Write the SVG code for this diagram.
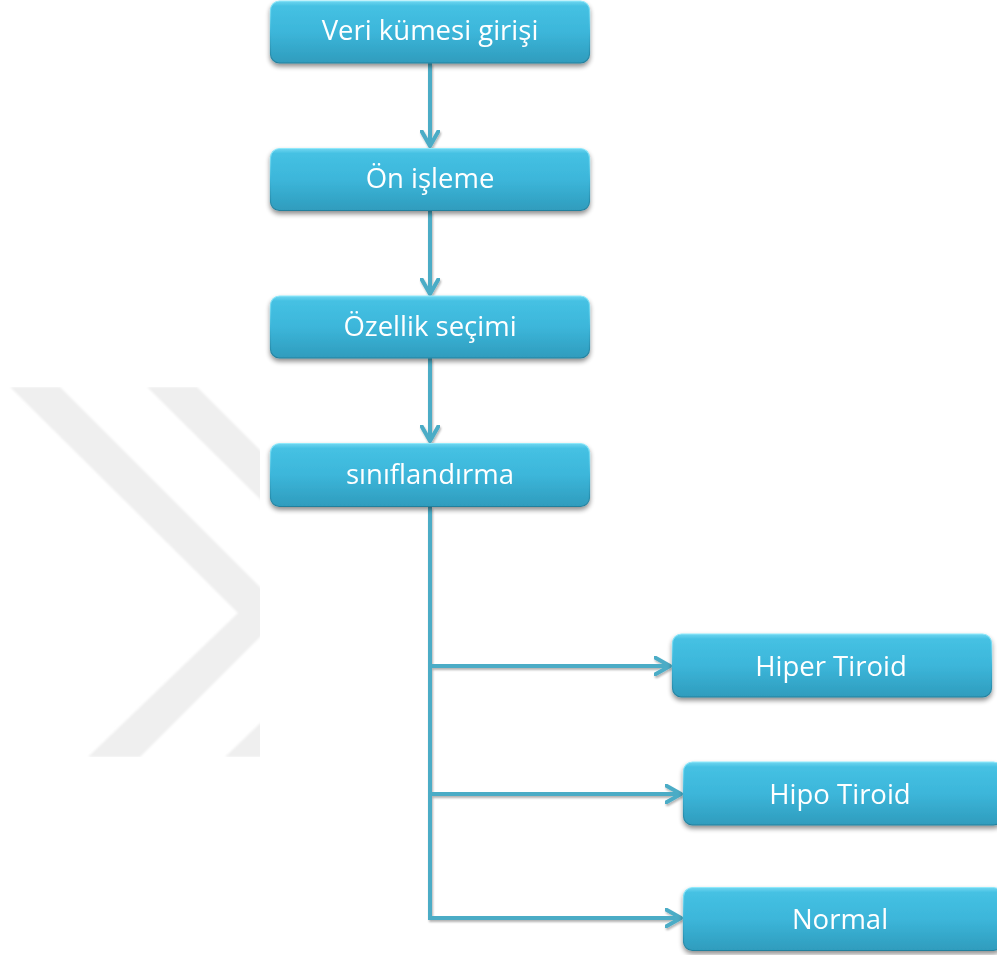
<svg xmlns="http://www.w3.org/2000/svg" width="997" height="955" viewBox="0 0 997 955">
  <defs>
    <linearGradient id="boxFill" x1="0" y1="0" x2="0" y2="1">
      <stop offset="0" stop-color="#6fd6f0"/>
      <stop offset="0.08" stop-color="#45c1e3"/>
      <stop offset="0.5" stop-color="#3cb6da"/>
      <stop offset="1" stop-color="#2f9cbd"/>
    </linearGradient>
    <linearGradient id="boxRim" x1="0" y1="0" x2="0" y2="1">
      <stop offset="0" stop-color="#8fe9fb"/>
      <stop offset="0.5" stop-color="#3db5d8"/>
      <stop offset="1" stop-color="#237f9c"/>
    </linearGradient>
    <filter id="boxShadow" x="-10%" y="-20%" width="120%" height="160%">
      <feGaussianBlur in="SourceAlpha" stdDeviation="2.5"/>
      <feOffset dx="0" dy="3" result="blur"/>
      <feComponentTransfer><feFuncA type="linear" slope="0.45"/></feComponentTransfer>
      <feMerge><feMergeNode/><feMergeNode in="SourceGraphic"/></feMerge>
    </filter>
    <filter id="lineShadow" x="-5%" y="-5%" width="110%" height="110%">
      <feGaussianBlur in="SourceAlpha" stdDeviation="1.2"/>
      <feOffset dx="1" dy="2"/>
      <feComponentTransfer><feFuncA type="linear" slope="0.3"/></feComponentTransfer>
      <feMerge><feMergeNode/><feMergeNode in="SourceGraphic"/></feMerge>
    </filter>
    <filter id="soft"><feGaussianBlur stdDeviation="0.8"/></filter>
    <clipPath id="markClip"><rect x="0" y="387" width="260" height="370"/></clipPath>
    <marker id="arrow" viewBox="0 0 20 20" refX="16" refY="10" markerWidth="20" markerHeight="20" markerUnits="userSpaceOnUse" orient="auto">
      <path d="M1,1.5 L16,10 L1,18.5" fill="none" stroke="#4bacc6" stroke-width="4" stroke-linecap="round" stroke-linejoin="round"/>
    </marker>
  </defs>
  <style>
    .box { fill: url(#boxFill); stroke: url(#boxRim); stroke-width: 1.2; }
    .label { font-family: "Open Sans", "Liberation Sans", sans-serif; font-size: 27.5px; fill: #ffffff; text-anchor: middle; }
    .conn { fill: none; stroke: #4bacc6; stroke-width: 4; stroke-linejoin: miter; }
    .mark { fill: #efefef; }
  </style>

  <rect width="997" height="955" fill="#ffffff"/>

  <!-- background chevron watermark -->
  <g id="watermark" clip-path="url(#markClip)" filter="url(#soft)">
    <polygon class="mark" points="10,387 60,387 285,612 140,757 88,757 238,613"/>
    <polygon class="mark" points="147,387 197,387 422,612 277,757 225,757 375,613"/>
  </g>

  <!-- connectors -->
  <g id="connectors" filter="url(#lineShadow)">
    <line class="conn" x1="430" y1="63" x2="430" y2="146" marker-end="url(#arrow)"/>
    <line class="conn" x1="430" y1="211" x2="430" y2="294" marker-end="url(#arrow)"/>
    <line class="conn" x1="430" y1="358" x2="430" y2="441" marker-end="url(#arrow)"/>
    <path class="conn" d="M430,507 V918 H681" marker-end="url(#arrow)"/>
    <line class="conn" x1="430" y1="666" x2="670" y2="666" marker-end="url(#arrow)"/>
    <line class="conn" x1="430" y1="794" x2="681" y2="794" marker-end="url(#arrow)"/>
  </g>

  <!-- process nodes -->
  <g id="node-veri" filter="url(#boxShadow)">
    <rect class="box" x="270.5" y="1" width="319" height="62" rx="9"/>
    <text class="label" x="430" y="40">Veri kümesi girişi</text>
  </g>
  <g id="node-on-isleme" filter="url(#boxShadow)">
    <rect class="box" x="270.5" y="148.5" width="319" height="62" rx="9"/>
    <text class="label" x="430" y="188">Ön işleme</text>
  </g>
  <g id="node-ozellik" filter="url(#boxShadow)">
    <rect class="box" x="270.5" y="296" width="319" height="62" rx="9"/>
    <text class="label" x="430" y="336">Özellik seçimi</text>
  </g>
  <g id="node-siniflandirma" filter="url(#boxShadow)">
    <rect class="box" x="270.5" y="443.5" width="319" height="63" rx="9"/>
    <text class="label" x="430" y="484">sınıflandırma</text>
  </g>

  <!-- outcome nodes -->
  <g id="node-hiper" filter="url(#boxShadow)">
    <rect class="box" x="672.5" y="634" width="319" height="63" rx="9"/>
    <text class="label" x="831" y="676">Hiper Tiroid</text>
  </g>
  <g id="node-hipo" filter="url(#boxShadow)">
    <rect class="box" x="683.5" y="762" width="319" height="63" rx="9"/>
    <text class="label" x="840" y="804">Hipo Tiroid</text>
  </g>
  <g id="node-normal" filter="url(#boxShadow)">
    <rect class="box" x="683.5" y="887.5" width="319" height="63" rx="9"/>
    <text class="label" x="840" y="929">Normal</text>
  </g>
</svg>
